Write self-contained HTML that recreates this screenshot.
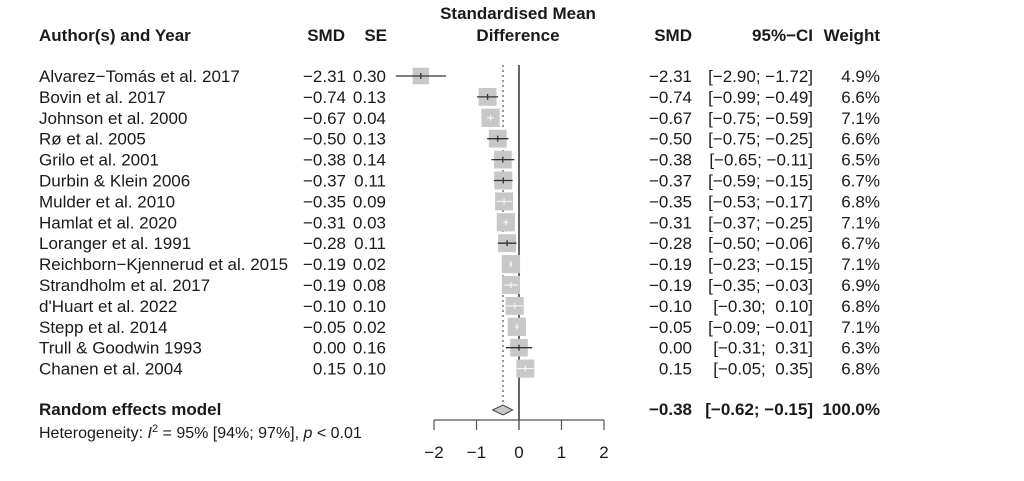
<!DOCTYPE html>
<html><head><meta charset="utf-8"><style>
body{margin:0;background:#fff}
svg text{font-family:"Liberation Sans",sans-serif;fill:#1a1a1a}
</style></head><body>
<svg width="1024" height="476" xmlns="http://www.w3.org/2000/svg" font-size="17">
<g font-weight="bold">
<text x="518" y="19" text-anchor="middle">Standardised Mean</text>
<text x="518" y="41" text-anchor="middle">Difference</text>
<text x="39" y="41">Author(s) and Year</text>
<text x="345" y="41" text-anchor="end">SMD</text>
<text x="387" y="41" text-anchor="end">SE</text>
<text x="692" y="41" text-anchor="end">SMD</text>
<text x="813" y="41" text-anchor="end">95%−CI</text>
<text x="880" y="41" text-anchor="end">Weight</text>
</g>
<line x1="519" y1="65" x2="519" y2="430" stroke="#000" stroke-width="1.2"/>
<line x1="503" y1="65" x2="503" y2="404" stroke="#555" stroke-width="1.2" stroke-dasharray="2,3"/>
<g id="rows"></g>
<polygon points="492.6,410 503,405 512.6,410 503,415" fill="#c8c8c8" stroke="#444" stroke-width="1"/>
<g stroke="#555" stroke-width="1.2">
<line x1="434" y1="420" x2="604" y2="420"/>
<line x1="434" y1="420" x2="434" y2="430"/><line x1="476.5" y1="420" x2="476.5" y2="430"/><line x1="519" y1="420" x2="519" y2="430"/><line x1="561.5" y1="420" x2="561.5" y2="430"/><line x1="604" y1="420" x2="604" y2="430"/>
</g>
<g text-anchor="middle">
<text x="434" y="458">−2</text><text x="476.5" y="458">−1</text><text x="519" y="458">0</text><text x="561.5" y="458">1</text><text x="604" y="458">2</text>
</g>
<g font-weight="bold">
<text x="39" y="415">Random effects model</text>
<text x="692" y="415" text-anchor="end">−0.38</text>
<text x="813" y="415" text-anchor="end">[−0.62; −0.15]</text>
<text x="880" y="415" text-anchor="end">100.0%</text>
</g>
<text x="39" y="438" font-size="16">Heterogeneity: <tspan font-style="italic">I</tspan><tspan dy="-6" font-size="11">2</tspan><tspan dy="6"> = 95% [94%; 97%], </tspan><tspan font-style="italic">p</tspan> &lt; 0.01</text>
</svg>
<script>
var d=[["Alvarez−Tomás et al. 2017",-2.31,"0.30",-2.90,-1.72,"4.9%"],
["Bovin et al. 2017",-0.74,"0.13",-0.99,-0.49,"6.6%"],
["Johnson et al. 2000",-0.67,"0.04",-0.75,-0.59,"7.1%"],
["Rø et al. 2005",-0.50,"0.13",-0.75,-0.25,"6.6%"],
["Grilo et al. 2001",-0.38,"0.14",-0.65,-0.11,"6.5%"],
["Durbin & Klein 2006",-0.37,"0.11",-0.59,-0.15,"6.7%"],
["Mulder et al. 2010",-0.35,"0.09",-0.53,-0.17,"6.8%"],
["Hamlat et al. 2020",-0.31,"0.03",-0.37,-0.25,"7.1%"],
["Loranger et al. 1991",-0.28,"0.11",-0.50,-0.06,"6.7%"],
["Reichborn−Kjennerud et al. 2015",-0.19,"0.02",-0.23,-0.15,"7.1%"],
["Strandholm et al. 2017",-0.19,"0.08",-0.35,-0.03,"6.9%"],
["d'Huart et al. 2022",-0.10,"0.10",-0.30,0.10,"6.8%"],
["Stepp et al. 2014",-0.05,"0.02",-0.09,-0.01,"7.1%"],
["Trull & Goodwin 1993",0.00,"0.16",-0.31,0.31,"6.3%"],
["Chanen et al. 2004",0.15,"0.10",-0.05,0.35,"6.8%"]];
function f(v){var s=Math.abs(v).toFixed(2);return (v<0?"−":"")+s;}
function X(v){return 519+v*42.5;}
var h="";
d.forEach(function(r,i){
var y=76+i*20.9,w=+r[5].replace("%",""),b=16.5+(w-4.9)*0.8,x=X(r[1]);
var lo=X(r[3]),hi=X(r[4]),c=(hi-lo)<b?"#f2f2f2":"#333";
h+='<rect x="'+(x-b/2)+'" y="'+(y-b/2)+'" width="'+b+'" height="'+b+'" fill="#c8c8c8"/>';
h+='<line x1="'+lo+'" y1="'+y+'" x2="'+hi+'" y2="'+y+'" stroke="'+c+'" stroke-width="1.3"/>';
h+='<line x1="'+x+'" y1="'+(y-3)+'" x2="'+x+'" y2="'+(y+3)+'" stroke="'+c+'" stroke-width="1.3"/>';
var ty=y+6;
h+='<text x="39" y="'+ty+'">'+r[0].replace("&","&amp;")+'</text>';
h+='<text x="346" y="'+ty+'" text-anchor="end">'+f(r[1])+'</text>';
h+='<text x="386" y="'+ty+'" text-anchor="end">'+r[2]+'</text>';
h+='<text x="692" y="'+ty+'" text-anchor="end">'+f(r[1])+'</text>';
h+='<text x="813" y="'+ty+'" text-anchor="end">['+f(r[3])+'; '+(r[4]>=0?'&#160;':'')+f(r[4])+']</text>';
h+='<text x="880" y="'+ty+'" text-anchor="end">'+r[5]+'</text>';
});
document.getElementById("rows").innerHTML=h;
</script>
</body></html>
